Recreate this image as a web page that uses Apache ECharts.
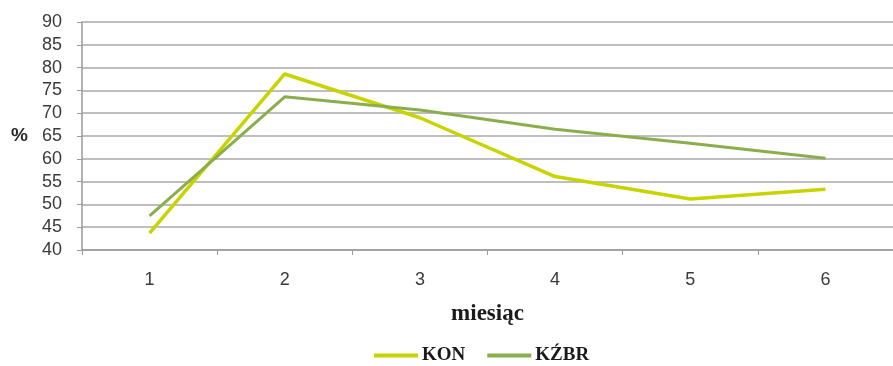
<!DOCTYPE html>
<html>
<head>
<meta charset="utf-8">
<script src="https://cdn.jsdelivr.net/npm/echarts@6/dist/echarts.min.js"></script>
<style>
html,body{margin:0;padding:0;background:#fff;}
#c{width:893px;height:366px;}
</style>
</head>
<body>
<div id="c"></div>
<script>
const categories = ['1', '2', '3', '4', '5', '6'];
const konValues = [43.7, 78.6, 69.0, 56.1, 51.2, 53.3];
const kzbrValues = [47.5, 73.6, 70.7, 66.5, 63.4, 60.1];
const seriesNames = ['KON', 'KŹBR'];
const xTitle = 'miesiąc';
const yTitle = '%';

const chart = echarts.init(document.getElementById('c'), null, {renderer: 'canvas'});
chart.setOption({
  animation: false,
  backgroundColor: '#ffffff',
  grid: {left: 82, top: 22, width: 816, height: 228, containLabel: false},
  legend: {
    left: 369, top: 341,
    icon: 'rect', itemWidth: 44, itemHeight: 4, itemGap: 22,
    textStyle: {fontFamily: 'Liberation Serif', fontWeight: 'bold', fontSize: 19, color: '#1a1a1a', padding: [0, 0, 0, -1]},
    data: seriesNames
  },
  xAxis: {
    type: 'category',
    data: categories,
    boundaryGap: true,
    name: xTitle,
    nameLocation: 'middle',
    nameGap: 53,
    nameTextStyle: {fontFamily: 'Liberation Serif', fontWeight: 'bold', fontSize: 23, color: '#1a1a1a'},
    axisLine: {lineStyle: {color: '#9a9a9a', width: 1.5}},
    axisTick: {show: true, length: 5, lineStyle: {color: '#9a9a9a'}},
    axisLabel: {margin: 21, fontFamily: 'Liberation Sans', fontSize: 18, color: '#3a3a3a'},
    splitLine: {show: false}
  },
  yAxis: {
    type: 'value',
    min: 40, max: 90, interval: 5,
    name: yTitle,
    nameLocation: 'middle',
    nameRotate: 0,
    nameGap: 54,
    nameTextStyle: {fontFamily: 'Liberation Sans', fontWeight: 'bold', fontSize: 19, color: '#2a2a2a'},
    axisLine: {show: true, lineStyle: {color: '#9a9a9a', width: 1.5}},
    axisTick: {show: true, length: 5, lineStyle: {color: '#9a9a9a'}},
    axisLabel: {margin: 20, fontFamily: 'Liberation Sans', fontSize: 18, color: '#3a3a3a'},
    splitLine: {show: true, lineStyle: {color: '#a8a8a8', width: 1.5}}
  },
  series: [
    {
      name: seriesNames[0], type: 'line', data: konValues,
      symbol: 'none', lineStyle: {color: '#c9d300', width: 3.5}, itemStyle: {color: '#c9d300'}
    },
    {
      name: seriesNames[1], type: 'line', data: kzbrValues,
      symbol: 'none', lineStyle: {color: '#8aae4c', width: 3}, itemStyle: {color: '#8aae4c'}
    }
  ]
});
</script>
</body>
</html>
